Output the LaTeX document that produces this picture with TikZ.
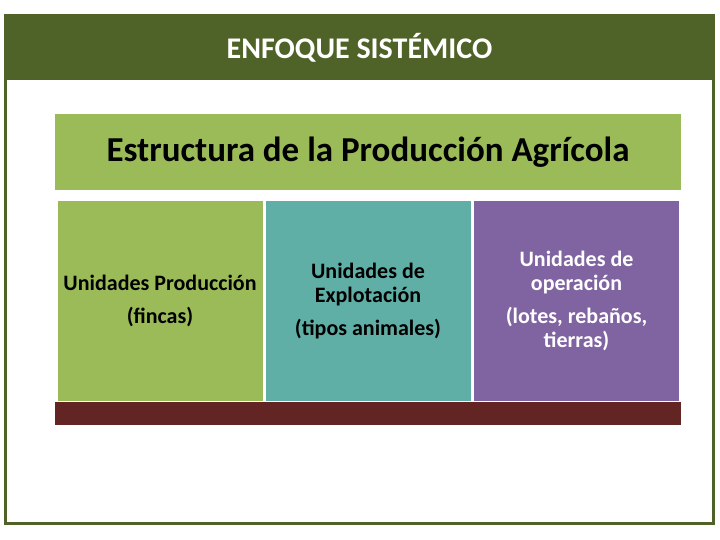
\documentclass[tikz,border=0pt]{standalone}
\usepackage{fontspec}
\setmainfont{Carlito}
\usetikzlibrary{positioning}
\definecolor{oliva}{HTML}{4F6228}
\definecolor{verde}{HTML}{9BBB59}
\definecolor{turq}{HTML}{5FAFA6}
\definecolor{lila}{HTML}{8064A2}
\definecolor{vino}{HTML}{632523}
\tikzset{
    frame/.style = {draw=oliva, line width=3pt},
    titlebar/.style = {rectangle, fill=oliva, inner sep=0pt, minimum width=711pt, minimum height=65pt, text=white, font=\fontsize{30}{34}\selectfont\bfseries},
    header/.style = {rectangle, fill=verde, inner sep=0pt, minimum width=626pt, minimum height=76pt, font=\fontsize{35}{40}\selectfont\bfseries},
    unit/.style = {rectangle, inner sep=0pt, minimum width=205pt, minimum height=200pt, align=center, font=\fontsize{22}{24}\selectfont\bfseries},
    base/.style = {rectangle, fill=vino, inner sep=0pt, minimum width=626pt, minimum height=23pt}
}

\begin{document}
\begin{tikzpicture}[x=1pt,y=-1pt]
\useasboundingbox (0,0) rectangle (720,540);
\draw[frame] (5.5,16) rectangle (713.5,523);
\node[titlebar] at (359.5,47.5) (title) {ENFOQUE SISTÉMICO};
%
\node[header] at (368,152) (estr) {Estructura de la Producción Agrícola};
\node[unit, fill=verde] at (160,301) (prod) {Unidades Producción\\[9pt](fincas)};
\node[unit, fill=turq] at (368,301) (expl) {Unidades de\\Explotación\\[9pt](tipos animales)};
\node[unit, fill=lila, text=white] at (576.5,301) (oper) {Unidades de\\operación\\[9pt](lotes, rebaños,\\tierras)};
\node[base] at (368,413.5) (base) {};
\end{tikzpicture}
\end{document}
